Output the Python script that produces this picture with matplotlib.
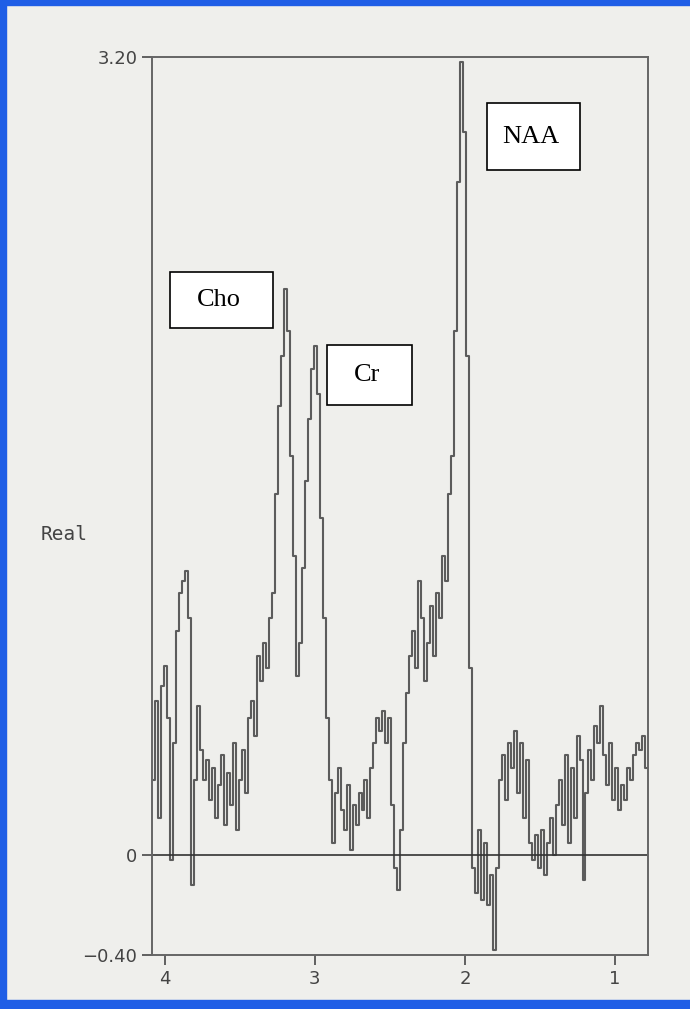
import numpy as np
import matplotlib
matplotlib.use("Agg")
import matplotlib.pyplot as plt
from matplotlib.patches import Rectangle

# spectrum, left (high ppm) to right (low ppm)
ppm_start, ppm_end = 4.073, 0.788
real = [
    # 4.07 .. 3.78
    0.30, 0.62, 0.15, 0.68, 0.76, 0.55, -0.02, 0.45, 0.90, 1.05, 1.10, 1.14, 0.95, -0.12, 0.30, 0.60,
    # 3.76 .. 3.44
    0.42, 0.30, 0.38, 0.22, 0.35, 0.15, 0.28, 0.40, 0.12, 0.33, 0.20, 0.45, 0.10, 0.30, 0.42, 0.25, 0.55,
    # 3.42 .. 3.28
    0.62, 0.48, 0.80, 0.70, 0.85, 0.75, 0.95, 1.05,
    # Cho / Cr
    1.45, 1.80, 2.00, 2.27, 2.10, 1.60, 1.20, 0.72, 0.85, 1.15, 1.50, 1.75, 1.95, 2.04, 1.85, 1.35, 0.95, 0.55, 0.30,
    # 2.88 .. 2.42
    0.05, 0.25, 0.35, 0.18, 0.10, 0.28, 0.02, 0.20, 0.12, 0.25, 0.18, 0.30, 0.15, 0.35, 0.45, 0.55,
    0.50, 0.58, 0.45, 0.55, 0.20, -0.05, -0.14, 0.10,
    # 2.40 .. 1.94 (NAA)
    0.45, 0.65, 0.80, 0.90, 0.75, 1.10, 0.95, 0.70, 0.85, 1.00, 0.80, 1.05, 0.95, 1.20, 1.10, 1.45,
    1.60, 2.10, 2.70, 3.18, 2.90, 2.00, 0.75, -0.05,
    # 1.92 .. 1.76
    -0.15, 0.10, -0.18, 0.05, -0.20, -0.08, -0.38, -0.05, 0.30,
    # 1.74 .. 1.36
    0.40, 0.22, 0.45, 0.35, 0.50, 0.25, 0.45, 0.15, 0.38, 0.05, -0.02, 0.08, -0.05, 0.10, -0.08, 0.05,
    0.15, 0.00, 0.20, 0.30,
    # 1.34 .. 0.79
    0.12, 0.40, 0.05, 0.35, 0.15, 0.48, 0.38, -0.10, 0.25, 0.42, 0.30, 0.52, 0.45, 0.60, 0.40, 0.28,
    0.45, 0.22, 0.35, 0.18, 0.28, 0.22, 0.35, 0.30, 0.40, 0.45, 0.42, 0.48, 0.35,
]
ppm = np.linspace(ppm_start, ppm_end, len(real))

xticks = [4, 3, 2, 1]
yticks = [3.20, 0, -0.40]
ytick_labels = ["3.20", "0", "\u22120.40"]

labels = ["Cho", "Cr", "NAA"]
# boxes in figure fraction: left, bottom, width, height
boxes = [(0.2464, 0.6749, 0.1493, 0.0555),
         (0.4739, 0.5986, 0.1232, 0.0595),
         (0.7058, 0.8315, 0.1348, 0.0664)]

bg = "#efefec"
fig = plt.figure(figsize=(6.9, 10.09), dpi=100, facecolor=bg)
ax = fig.add_axes([0.2203, 0.0535, 0.7187, 0.89])
ax.set_facecolor(bg)

ax.plot(ppm, real, drawstyle="steps-mid", color="#5c5c5c", lw=1.5)
ax.axhline(0, color="#333333", lw=1.2)

ax.set_xlim(4.086, 0.78)
ax.set_ylim(-0.40, 3.20)
ax.set_xticks(xticks)
ax.set_xticklabels([str(t) for t in xticks])
ax.set_yticks(yticks)
ax.set_yticklabels(ytick_labels)
ax.tick_params(colors="#555555", labelcolor="#444444", labelsize=13, length=7, width=1.3)
for s in ax.spines.values():
    s.set_color("#666666")
    s.set_linewidth(1.4)

fig.text(0.093, 1 - 535 / 1009, "Real", fontsize=14, color="#444444",
         family="DejaVu Sans Mono", ha="center", va="center")

for lab, (l, b, w, h) in zip(labels, boxes):
    fig.patches.append(Rectangle((l, b), w, h, transform=fig.transFigure,
                                 facecolor="white", edgecolor="black", lw=1.2))
    fig.text(l + w * 0.47, b + h * 0.5, lab, fontsize=19, family="Liberation Serif",
             ha="center", va="center")

# blue window border of the screenshot
blue = "#1f5ee6"
fig.patches.append(Rectangle((0, 0), 1, 9 / 1009, transform=fig.transFigure, color=blue))
fig.patches.append(Rectangle((0, 1 - 5 / 1009), 1, 5 / 1009, transform=fig.transFigure, color=blue))
fig.patches.append(Rectangle((0, 0), 6 / 690, 1, transform=fig.transFigure, color=blue))

fig.savefig("out.png", dpi=100, facecolor=bg)
